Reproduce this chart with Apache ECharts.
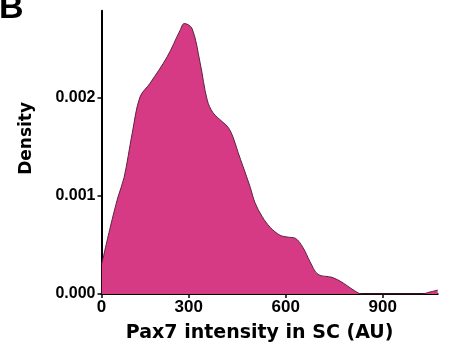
<!DOCTYPE html>
<html>
<head>
<meta charset="utf-8">
<script src="https://cdn.jsdelivr.net/npm/echarts@6/dist/echarts.min.js"></script>
<style>
html,body{margin:0;padding:0;background:#fff;}
#chart{width:450px;height:354px;}
</style>
</head>
<body>
<div id="chart"></div>
<script>
// Pax7 intensity (AU) sample points of the density curve
const intensity = [31, 57, 81, 100, 125, 149, 180, 233, 273, 286, 310, 335, 357, 375, 403, 422, 437, 453, 468, 490, 505, 527, 552, 582, 607, 629, 654, 675, 700, 743, 774, 805, 836, 870, 950, 1020, 1046, 1070];
// Density values at those points
const density = [0.00031, 0.00068, 0.00099, 0.00119, 0.00164, 0.00201, 0.00215, 0.00242, 0.00269, 0.00276, 0.00271, 0.00236, 0.00198, 0.00185, 0.00176, 0.00170, 0.00160, 0.00144, 0.00130, 0.00109, 0.00093, 0.00079, 0.00068, 0.00060, 0.00058, 0.00057, 0.00047, 0.00033, 0.00020, 0.00017, 0.00012, 0.00005, 0.00000, 0.00000, 0.00000, 0.00000, 0.00002, 0.00004];
// Tick values and labels
const xTickValues = [30, 300, 600, 900];
const xTickLabels = ['0', '300', '600', '900'];
const yTickValues = [0, 0.001, 0.002];
const yTickLabels = ['0.000', '0.001', '0.002'];

const chart = echarts.init(document.getElementById('chart'));
chart.setOption({
  animation: false,
  backgroundColor: '#fff',
  grid: { left: 101.5, right: 12.3, top: 10.8, bottom: 60 },
  xAxis: {
    type: 'value', min: 30, max: 1070,
    name: 'Pax7 intensity in SC (AU)',
    nameLocation: 'middle', nameGap: 30,
    nameTextStyle: { fontFamily: 'DejaVu Sans', fontWeight: 'bold', fontSize: 19, color: '#000', padding: [0, 20, 0, 0] },
    axisLine: { lineStyle: { color: '#000', width: 2 } },
    axisTick: { show: true, length: 4, lineStyle: { color: '#000', width: 1.5 }, customValues: xTickValues },
    axisLabel: {
      customValues: xTickValues,
      formatter: v => xTickLabels[xTickValues.indexOf(v)],
      fontFamily: 'Liberation Sans', fontWeight: 'bold', fontSize: 17, color: '#000', margin: 5
    },
    splitLine: { show: false }
  },
  yAxis: {
    type: 'value', min: 0, max: 0.00289,
    name: 'Density',
    nameLocation: 'middle', nameGap: 66,
    nameTextStyle: { fontFamily: 'DejaVu Sans', fontWeight: 'bold', fontSize: 17, color: '#000', padding: [0, 0, 0, 28] },
    axisLine: { show: true, lineStyle: { color: '#000', width: 2 } },
    axisTick: { show: true, length: 4, lineStyle: { color: '#000', width: 1.5 }, customValues: yTickValues },
    axisLabel: {
      customValues: yTickValues,
      formatter: v => yTickLabels[yTickValues.indexOf(v)],
      fontFamily: 'Liberation Sans', fontWeight: 'bold', fontSize: 16, color: '#000', margin: 6
    },
    splitLine: { show: false }
  },
  graphic: [{
    type: 'text', left: -1, top: -8,
    style: { text: 'B', font: 'bold 34px "Liberation Sans"', fill: '#000' }
  }],
  series: [{
    type: 'line',
    data: intensity.map((x, i) => [x, density[i]]),
    smooth: 0.35,
    symbol: 'none',
    lineStyle: { color: '#5c2340', width: 1 },
    areaStyle: { color: '#D63A84', opacity: 1 },
    z: 1
  }]
});
</script>
</body>
</html>
